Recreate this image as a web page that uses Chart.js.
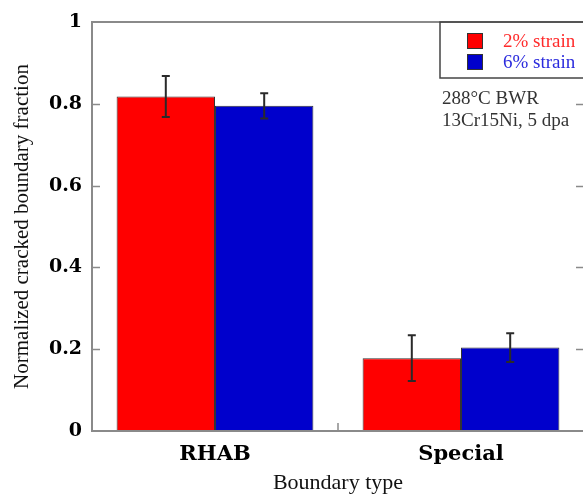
<!DOCTYPE html>
<html lang="en">
  <head>
    <meta charset="UTF-8" />
    <title>Normalized cracked boundary fraction</title>
    <script src="https://cdn.jsdelivr.net/npm/chart.js"></script>
    <style>
      html,
      body {
        margin: 0;
        padding: 0;
        background: #fff;
        overflow: hidden;
      }
      /* slightly wider than the window so the right frame line is cut off */
      #wrap {
        width: 586px;
        height: 497px;
        position: relative;
      }
    </style>
  </head>
  <body>
    <div id="wrap"><canvas id="myChart"></canvas></div>
    <script>
      // data
      var categories = ["RHAB", "Special"];
      var seriesNames = ["2% strain", "6% strain"];
      var strain2 = [0.818, 0.178];
      var strain2Err = [0.05, 0.056];
      var strain6 = [0.795, 0.204];
      var strain6Err = [0.031, 0.035];
      var yTicks = [0, 0.2, 0.4, 0.6, 0.8, 1];
      var notes = ["288°C BWR", "13Cr15Ni, 5 dpa"];

      var errors = [strain2Err, strain6Err];
      var textColors = ["#ff2b2b", "#2b2bdd"];

      // frame, inward tick marks
      var framePlugin = {
        id: "frame",
        afterDatasetsDraw: function (chart) {
          var ctx = chart.ctx;
          var a = chart.chartArea;
          var y = chart.scales.y;
          var x = chart.scales.x;
          ctx.save();
          ctx.strokeStyle = "#8a8a8a";
          ctx.lineWidth = 2;
          ctx.strokeRect(a.left, a.top, a.right - a.left, a.bottom - a.top);
          ctx.lineWidth = 1.5;
          ctx.beginPath();
          yTicks.forEach(function (v) {
            if (v === 0 || v === 1) return;
            var py = Math.round(y.getPixelForValue(v)) + 0.5;
            ctx.moveTo(a.left, py);
            ctx.lineTo(a.left + 8, py);
            ctx.moveTo(a.right, py);
            ctx.lineTo(a.right - 8, py);
          });
          for (var i = 0; i < categories.length - 1; i++) {
            var px = (x.getPixelForTick(i) + x.getPixelForTick(i + 1)) / 2;
            ctx.moveTo(px, a.bottom);
            ctx.lineTo(px, a.bottom - 8);
          }
          ctx.stroke();
          ctx.restore();
        },
      };

      // error bars
      var errorBarPlugin = {
        id: "errorBars",
        afterDatasetsDraw: function (chart) {
          var ctx = chart.ctx;
          var y = chart.scales.y;
          ctx.save();
          ctx.strokeStyle = "#2a2a2a";
          ctx.lineWidth = 2;
          chart.data.datasets.forEach(function (ds, di) {
            var meta = chart.getDatasetMeta(di);
            meta.data.forEach(function (bar, i) {
              var v = ds.data[i];
              var e = errors[di][i];
              var top = y.getPixelForValue(v + e);
              var bot = y.getPixelForValue(v - e);
              ctx.beginPath();
              ctx.moveTo(bar.x, top);
              ctx.lineTo(bar.x, bot);
              ctx.moveTo(bar.x - 4, top);
              ctx.lineTo(bar.x + 4, top);
              ctx.moveTo(bar.x - 4, bot);
              ctx.lineTo(bar.x + 4, bot);
              ctx.stroke();
            });
          });
          ctx.restore();
        },
      };

      // legend box and the note under it
      var legendPlugin = {
        id: "boxLegend",
        afterDraw: function (chart) {
          var ctx = chart.ctx;
          var a = chart.chartArea;
          ctx.save();
          ctx.strokeStyle = "#444";
          ctx.lineWidth = 1.5;
          ctx.strokeRect(440, a.top, 200, 56);
          ctx.font = "19px 'Liberation Serif', 'Times New Roman', serif";
          ctx.textBaseline = "middle";
          chart.data.datasets.forEach(function (ds, i) {
            var cy = 41 + i * 21;
            ctx.fillStyle = ds.backgroundColor;
            ctx.fillRect(467, cy - 8, 16, 16);
            ctx.strokeStyle = "#333";
            ctx.lineWidth = 1;
            ctx.strokeRect(467.5, cy - 7.5, 15, 15);
            ctx.fillStyle = textColors[i];
            ctx.fillText(ds.label, 503, cy + 1);
          });
          ctx.fillStyle = "#333";
          notes.forEach(function (t, i) {
            ctx.fillText(t, 442, 99 + i * 22);
          });
          ctx.restore();
        },
      };

      var ctx = document.getElementById("myChart").getContext("2d");
      var myChart = new Chart(ctx, {
        type: "bar",
        data: {
          labels: categories,
          datasets: [
            {
              label: seriesNames[0],
              data: strain2,
              backgroundColor: "#ff0000",
              borderColor: "#333",
              borderWidth: 1,
            },
            {
              label: seriesNames[1],
              data: strain6,
              backgroundColor: "#0000cc",
              borderColor: "#333",
              borderWidth: 1,
            },
          ],
        },
        options: {
          responsive: true,
          maintainAspectRatio: false,
          animation: false,
          categoryPercentage: 0.8,
          barPercentage: 1.0,
          layout: { padding: { top: 22, right: 2, left: 0, bottom: 0 } },
          scales: {
            x: {
              offset: true,
              grid: { display: false, drawTicks: false },
              border: { display: false },
              ticks: {
                color: "#000",
                padding: 11,
                font: { family: "'DejaVu Serif', serif", size: 21, weight: "bold" },
              },
              title: {
                display: true,
                text: "Boundary type",
                color: "#111",
                padding: { top: 0, bottom: 1 },
                font: { family: "'Liberation Serif', serif", size: 22 },
              },
              afterFit: function (scale) {
                scale.height = 66;
              },
            },
            y: {
              min: 0,
              max: 1,
              grid: { display: false, drawTicks: false },
              border: { display: false },
              afterBuildTicks: function (scale) {
                scale.ticks = yTicks.map(function (v) {
                  return { value: v };
                });
              },
              ticks: {
                color: "#000",
                padding: 10,
                font: { family: "'DejaVu Serif', serif", size: 19, weight: "bold" },
                callback: function (v) {
                  return String(v);
                },
              },
              title: {
                display: true,
                text: "Normalized cracked boundary fraction",
                color: "#111",
                padding: { top: 10, bottom: 0 },
                font: { family: "'Liberation Serif', serif", size: 21 },
              },
              afterFit: function (scale) {
                scale.width = 92;
              },
            },
          },
          plugins: {
            legend: { display: false },
            tooltip: { enabled: false },
          },
        },
        plugins: [framePlugin, errorBarPlugin, legendPlugin],
      });
    </script>
  </body>
</html>
